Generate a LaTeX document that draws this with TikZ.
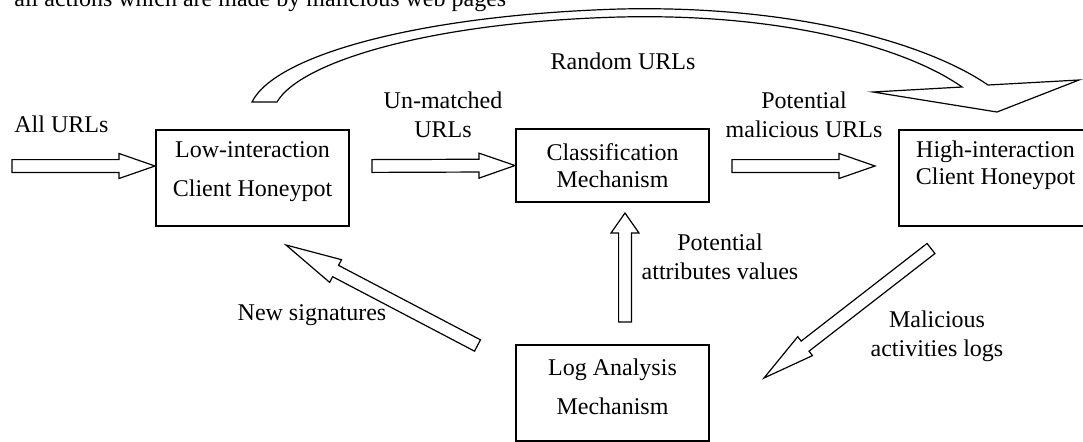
\documentclass[tikz,border=0pt]{standalone}
\usepackage{fontspec}
\setmainfont{Liberation Serif}
\usetikzlibrary{calc}
\tikzset{
  box/.style = {draw, line width=1pt, minimum width=96.5pt,
                minimum height=#1, inner sep=0pt, align=center},
  box/.default = 48pt,
  lbl/.style = {align=center, inner sep=0pt},
  barrow/.style = {draw, fill=white, line width=0.6pt, line join=miter}
}
\def\sw{3.2pt}
% block arrow: tail, tip, head half width, head length
\newcommand{\blockarrow}[4]{%
  \coordinate (hb) at ($(#2)!#4!(#1)$);
  \draw[barrow] ($(#1)!\sw!90:(#2)$) -- ($(hb)!\sw!90:(#2)$)
    -- ($(hb)!#3!90:(#2)$) -- (#2) -- ($(hb)!#3!-90:(#2)$)
    -- ($(hb)!\sw!-90:(#2)$) -- ($(#1)!\sw!-90:(#2)$) -- cycle;
}

\begin{document}
\begin{tikzpicture}[x=0.5pt, y=-0.5pt, font=\fontsize{12}{14.5}\selectfont]
	\useasboundingbox (0,0) rectangle (1083,441);
	\clip (0,0) rectangle (1083,441);

	\node[anchor=base west, inner sep=0pt] (cap) at (14,6) {all actions which are made by malicious web pages};

	% Boxes
	\node[box, text depth=8.5pt] (low) at (252.5,178) {Low-interaction\\[5pt]Client Honeypot};
	\node[box=36.5pt] (cls) at (612.5,165.5) {Classification\\[-1pt]Mechanism};
	\node[box, text depth=15pt] (high) at (995.5,178) {High-interaction\\[-1pt]Client Honeypot};
	\node[box, text depth=6pt] (log) at (612.5,393) {Log Analysis\\[5pt]Mechanism};

	% Labels
	\node[lbl, anchor=west] (lall) at (14,124) {All URLs};
	\node[lbl] (lun) at (443,114.5) {Un-matched\\URLs};
	\node[lbl] (lpot) at (804,114.5) {Potential\\malicious URLs};
	\node[lbl] (lrnd) at (623,61.5) {Random URLs};
	\node[lbl] (latt) at (720,256.5) {Potential\\attributes values};
	\node[lbl] (lmal) at (937,336) {Malicious\\activities logs};
	\node[lbl] (lsig) at (312,315.5) {New signatures};

	% Arrow ends
	\coordinate (in) at (12,166);
	\coordinate (lowin) at ($(low.west)+(0,-12)$);
	\coordinate (unout) at (372,166);
	\coordinate (potout) at (732,166);
	\coordinate (highin) at (875,166);
	\coordinate (attout) at (625,322);
	\coordinate (clsin) at (625,213);
	\coordinate (malout) at (931,248.5);
	\coordinate (login) at (764,378);
	\coordinate (sigout) at (477.5,345.5);
	\coordinate (lowsig) at (286,245);

	% Block arrows
	\blockarrow{in}{lowin}{6.25pt}{18pt}
	\blockarrow{unout}{cls.west}{6.25pt}{18pt}
	\blockarrow{potout}{highin}{6.25pt}{18pt}
	\blockarrow{attout}{clsin}{7pt}{10pt}
	\blockarrow{malout}{login}{6pt}{26pt}
	\blockarrow{sigout}{lowsig}{6.4pt}{28pt}

	% Random URLs
	\draw[barrow] (277,102) -- (252,102) .. controls (275,55) and (420,15) .. (620,9)
		.. controls (800,5) and (930,45) .. (988,85) -- (1079,80) -- (997,112) -- (873,92)
		-- (962,87) .. controls (910,50) and (790,13) .. (620,17)
		.. controls (430,22) and (300,62) .. (277,102) -- cycle;
\end{tikzpicture}
\end{document}
